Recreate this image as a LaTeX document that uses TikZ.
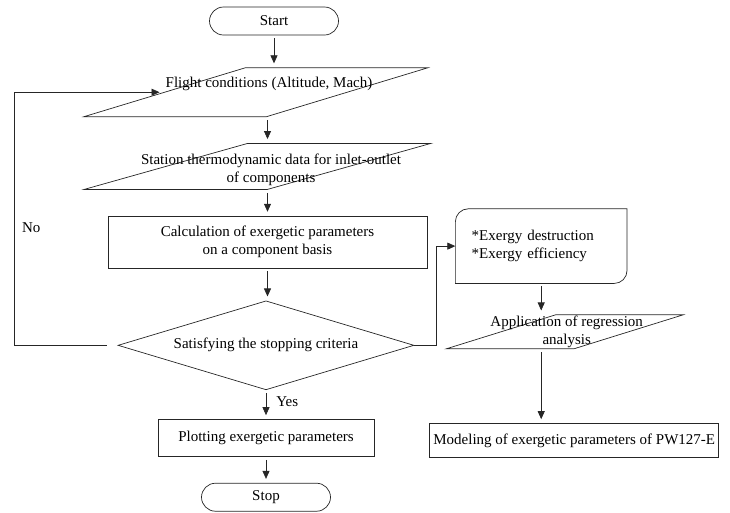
\documentclass[tikz,border=0pt]{standalone}
\usepackage{fontspec}
\setmainfont{Liberation Serif}
\usepackage{tikz}
\usetikzlibrary{
    shapes.geometric,
    shapes.misc,
    arrows.meta,
    positioning,
    calc
}
\tikzset{
    % Base style for all nodes
    flow base/.style={
        font=\fontsize{15}{18}\selectfont,
        align=center,
        text=black,
        draw=black!85,
        line width=0.7pt,
        inner sep=2pt,
    },
    % Start/Stop nodes - stadium
    startstop/.style={
        flow base,
        rounded rectangle,
        minimum width=133pt,
        minimum height=28pt,
    },
    % Process nodes - plain rectangle
    process/.style={
        flow base,
        rectangle,
    },
    % Decision diamond
    decision/.style={
        flow base,
        diamond,
        aspect=3.3,
        inner sep=0pt,
        minimum width=296pt,
        minimum height=89pt,
    },
    % IO nodes - parallelogram, text goes in a centre label
    io/.style={
        flow base,
        trapezium,
        trapezium stretches=true,
        inner sep=2pt,
    },
    io text/.style={
        font=\fontsize{15}{18}\selectfont,
        align=center,
        inner sep=0pt,
    },
    % Arrow style
    arrow/.style={
        -{Triangle[length=8pt, width=7pt]},
        line width=0.7pt,
        draw=black!85,
        shorten >=4pt,
        shorten <=3pt,
    },
    % Label style for Yes/No
    edge label/.style={
        font=\fontsize{15}{18}\selectfont,
        inner sep=2pt,
    },
}

\begin{document}
\begin{tikzpicture}[x=1pt, y=-1pt]
    \useasboundingbox (0,0) rectangle (730,512);

    % main column
    \node (start) [startstop] at (274,21) {Start};
    \node (flight) [io, below=32pt of start, xshift=-18pt,
        minimum width=346pt, minimum height=49pt,
        trapezium left angle=35.4, trapezium right angle=144.6,
        label={[io text, xshift=13pt, yshift=8.5pt]center:Flight conditions (Altitude, Mach)}] {\strut};
    \node (station) [io, below=26pt of flight, xshift=1.5pt,
        minimum width=349pt, minimum height=46pt,
        trapezium left angle=33.7, trapezium right angle=146.3,
        label={[io text, xshift=13.5pt, yshift=-3.5pt]center:Station thermodynamic data for inlet-outlet\\of components}] {\strut};
    \node (calc) [process, below=26pt of station, xshift=10pt,
        minimum width=319pt, minimum height=52pt]
        {Calculation of exergetic parameters\\on a component basis};
    \node (check) [decision, below=32pt of calc, xshift=-1.5pt] {Satisfying the stopping criteria};
    \node (plot) [process, below=29pt of check,
        minimum width=216pt, minimum height=37pt] {Plotting exergetic parameters};
    \node (stop) [startstop, below=26pt of plot] {Stop};

    % right column
    \node (exergy) [process, draw=none, right=28pt of calc, yshift=-4pt,
        align=left, text width=139pt, inner xsep=16pt, minimum height=74pt]
        {*Exergy destruction\\{}*Exergy efficiency};
    \draw [line width=0.7pt, black!85] ([xshift=13pt]exergy.north west) -- (exergy.north east)
        -- ([yshift=13pt]exergy.south east) arc[start angle=0, end angle=-90, radius=13pt]
        -- (exergy.south west) -- ([yshift=-13pt]exergy.north west)
        arc[start angle=180, end angle=90, radius=13pt] -- cycle;
    \node (application) [io, below=31pt of exergy, xshift=23.5pt,
        minimum width=238pt, minimum height=34pt,
        trapezium left angle=42.6, trapezium right angle=137.4,
        label={[io text, xshift=2pt]center:Application of regression\\analysis}] {\strut};
    \node (modeling) [process, below=74pt of application, xshift=9.5pt,
        minimum width=289pt, minimum height=34pt, inner xsep=3pt]
        {Modeling of exergetic parameters of PW127-E};

    \coordinate (loopleft) at ([xshift=-103pt]check.west);
    \coordinate (exitright) at ([xshift=22pt]check.east);

    \draw [arrow] (start.south) -- (start.south |- flight.north);
    \draw [arrow] (flight.south -| calc) -- (calc |- station.north);
    \draw [arrow] (station.south -| calc) -- (calc.north);
    \draw [arrow] (calc.south) -- (calc.south |- check.north);
    \draw [arrow] (check.south) -- (check.south |- plot.north)
        node [edge label, right, midway, xshift=8pt, yshift=3pt] {Yes};
    \draw [arrow] (plot.south) -- (plot.south |- stop.north);
    \draw [arrow, shorten <=11pt] (check.west) -- (loopleft) |- (flight.west)
        node [edge label, right, pos=0.232, xshift=5pt] {No};
    \draw [arrow, shorten <=0pt, shorten >=0pt] (check.east) -- (exitright) |- (exergy.west);
    \draw [arrow] (exergy.south) -- (exergy.south |- application.north);
    \draw [arrow] (exergy.south |- application.south) -- (exergy.south |- modeling.north);
\end{tikzpicture}
\end{document}
